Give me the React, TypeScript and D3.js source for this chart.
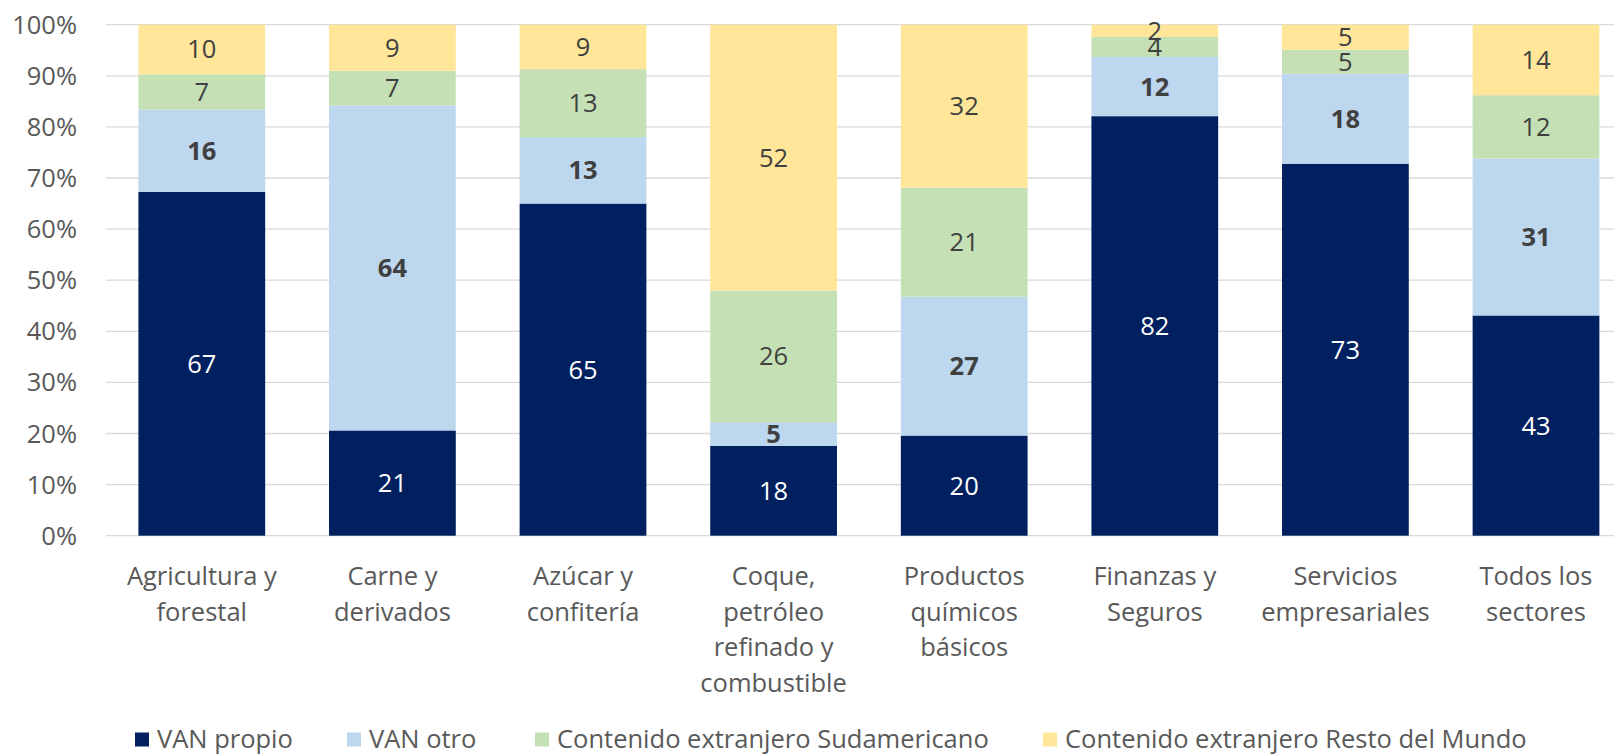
import React from "react";
import * as d3 from "d3";

const categories = [
  "Agricultura y forestal",
  "Carne y derivados",
  "Azúcar y confitería",
  "Coque, petróleo refinado y combustible",
  "Productos químicos básicos",
  "Finanzas y Seguros",
  "Servicios empresariales",
  "Todos los sectores",
];
const categoryLines = [
  ["Agricultura y", "forestal"],
  ["Carne y", "derivados"],
  ["Azúcar y", "confitería"],
  ["Coque,", "petróleo", "refinado y", "combustible"],
  ["Productos", "químicos", "básicos"],
  ["Finanzas y", "Seguros"],
  ["Servicios", "empresariales"],
  ["Todos los", "sectores"],
];
const seriesNames = [
  "VAN propio",
  "VAN otro",
  "Contenido extranjero Sudamericano",
  "Contenido extranjero Resto del Mundo",
];
const vanPropio = [67.3, 20.6, 65.0, 17.6, 19.6, 82.1, 72.8, 43.1];
const vanOtro = [16.1, 63.6, 13.0, 4.6, 27.2, 11.6, 17.6, 30.7];
const sudamericano = [6.9, 6.8, 13.3, 25.8, 21.3, 3.9, 4.7, 12.4];
const restoMundo = [9.7, 9.0, 8.7, 52.0, 31.9, 2.4, 4.9, 13.8];
const yTicks = [0, 10, 20, 30, 40, 50, 60, 70, 80, 90, 100];

const colors = ["#002060", "#BDD7EE", "#C5E0B4", "#FFE699"];
const labelColors = ["#FFFFFF", "#404040", "#404040", "#404040"];
const labelWeights = [400, 700, 400, 400];
const FONT = "'Open Sans', Lato, sans-serif";
const FS = 25.5;
const CAP = 9;

export default function App() {
  const W = 1614;
  const H = 754;
  const step = 190.6;
  const left = 106.5;
  const x = d3
    .scaleBand<string>()
    .domain(categories)
    .range([left, left + step * categories.length])
    .paddingInner(0.335)
    .paddingOuter(0.1675);
  const y = d3.scaleLinear().domain([0, 100]).range([535.7, 24.7]);

  const table = categories.map((c, i) => ({
    cat: c,
    s0: vanPropio[i],
    s1: vanOtro[i],
    s2: sudamericano[i],
    s3: restoMundo[i],
  }));
  const stack = d3.stack<any>().keys(["s0", "s1", "s2", "s3"]);
  const layers = stack(table);
  const fmt = d3.format(".0f");

  const legendSquareX = [135, 347, 535, 1043];

  return (
    <svg
      width={W}
      height={H}
      style={{ position: "absolute", left: 0, top: 0, background: "#fff" }}
      fontFamily={FONT}
    >
      {yTicks.map((t) => (
        <g key={t}>
          <line
            x1={106}
            x2={W}
            y1={y(t)}
            y2={y(t)}
            stroke="#D9D9D9"
            strokeWidth={1.3}
          />
          <text
            x={77}
            y={y(t)}
            dy={CAP}
            textAnchor="end"
            fontSize={FS}
            fill="#595959"
          >
            {t}%
          </text>
        </g>
      ))}
      {layers.map((layer, li) => (
        <g key={li}>
          {layer.map((d, i) => (
            <rect
              key={i}
              x={x(categories[i])}
              width={x.bandwidth()}
              y={y(d[1])}
              height={y(d[0]) - y(d[1])}
              fill={colors[li]}
            />
          ))}
        </g>
      ))}
      {layers.map((layer, li) => (
        <g key={"l" + li}>
          {layer.map((d, i) => (
            <text
              key={i}
              x={(x(categories[i]) as number) + x.bandwidth() / 2}
              y={(y(d[0]) + y(d[1])) / 2}
              dy={CAP}
              textAnchor="middle"
              fontSize={FS}
              fontWeight={labelWeights[li]}
              fill={labelColors[li]}
            >
              {fmt(d[1] - d[0])}
            </text>
          ))}
        </g>
      ))}
      {categories.map((c, i) => (
        <text
          key={c}
          x={(x(c) as number) + x.bandwidth() / 2}
          y={585}
          textAnchor="middle"
          fontSize={FS}
          fill="#595959"
        >
          {categoryLines[i].map((ln, k) => (
            <tspan key={k} x={(x(c) as number) + x.bandwidth() / 2} dy={k === 0 ? 0 : 35.5}>
              {ln}
            </tspan>
          ))}
        </text>
      ))}
      {seriesNames.map((s, i) => (
        <g key={s}>
          <rect x={legendSquareX[i]} y={732.5} width={14} height={14} fill={colors[i]} />
          <text
            x={legendSquareX[i] + 22}
            y={738.5}
            dy={CAP}
            fontSize={FS}
            fill="#595959"
          >
            {s}
          </text>
        </g>
      ))}
    </svg>
  );
}
